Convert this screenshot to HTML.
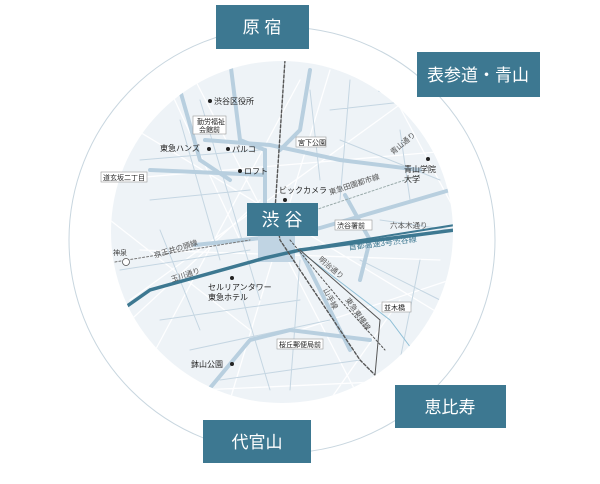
<!DOCTYPE html>
<html><head><meta charset="utf-8"><style>
html,body{margin:0;padding:0;background:#fff;}
svg{display:block;font-family:"Liberation Sans","Noto Sans CJK JP",sans-serif;}
</style></head><body>
<svg width="600" height="484" viewBox="0 0 600 484">
<defs><clipPath id="c"><circle cx="282" cy="232" r="171"/></clipPath></defs>
<circle cx="282" cy="240" r="213" fill="none" stroke="#c8d6df" stroke-width="1"/>
<circle cx="282" cy="232" r="171" fill="#eef3f7"/>
<g clip-path="url(#c)" fill="none" stroke-linecap="round">
 <g stroke="#ffffff" stroke-width="1.3" opacity=".9">
  <path d="M120 120 L450 320 M110 180 L460 150 M130 300 L420 90 M150 360 L300 80 M200 390 L420 380 M140 250 L440 260 M190 70 L360 400 M330 70 L230 400 M110 220 L250 330 M380 70 L460 220 M120 330 L260 200 M300 330 L450 280 M170 90 L240 240 M400 300 L330 400"/>
 </g>
 <g stroke="#c5d6e2" stroke-width="1">
  <path d="M140 160 L260 150 M150 200 L250 190 M200 100 L260 300 M180 120 L220 260 M120 270 L250 250 M160 320 L300 300 M190 350 L330 320 M220 380 L360 360 M330 110 L420 100 M340 140 L440 180 M360 260 L440 300 M380 220 L450 230 M310 90 L320 180 M350 80 L340 200 M400 130 L410 200 M160 230 L200 330 M240 290 L270 390 M300 260 L290 390 M420 260 L400 360"/>
 </g>
 <g stroke="#b8cfdf" stroke-width="4">
  <path d="M230 60 L240 140 L265 150 L265 205"/>
  <path d="M195 245 L290 235 L320 228 L450 190"/>
  <path d="M205 140 L270 145 L340 160 L420 170"/>
  <path d="M180 90 L200 160 L230 180"/>
  <path d="M310 70 L300 130 L280 150"/>
  <path d="M345 195 L370 240 L360 280"/>
  <path d="M150 170 L265 175"/>
  <path d="M300 250 L350 350"/>
  <path d="M200 400 L250 340 L290 330 L370 340"/>
  <path d="M380 90 L430 100 L450 130"/>
 </g>
 <path d="M258 235 L258 262 L295 262 L295 235 Z" fill="#c0d4e3" stroke="none"/>
 <path d="M110 318 L150 290 L265 258 L300 250 L455 230" stroke="#3d7891" stroke-width="3.5"/>
 <path d="M310 248 L455 225" stroke="#3d7891" stroke-width="2"/>
 <path d="M305 255 L390 320 L420 360" stroke="#8fbfd6" stroke-width="1"/>
 <path d="M285 60 L275 210 L280 240 L320 300 L360 360 L375 375" stroke="#555" stroke-width="1.4" stroke-dasharray="3 2"/>
 <path d="M290 240 L340 300 L385 350" stroke="#555" stroke-width="1" stroke-dasharray="2 2"/>
 <path d="M300 250 L380 320 L375 375" stroke="#555" stroke-width="1"/>
 <path d="M115 262 L250 240" stroke="#777" stroke-width="1" stroke-dasharray="2 2"/>
 <path d="M300 215 L420 175" stroke="#9aa" stroke-width="1" stroke-dasharray="2 2"/>
</g>
<g fill="#3d7891">
 <rect x="216" y="5" width="93" height="44"/>
 <rect x="417" y="52" width="123" height="45"/>
 <rect x="395" y="385" width="111" height="43"/>
 <rect x="203" y="420" width="108" height="43"/>
 <rect x="247" y="203" width="71" height="33"/>
</g>
<g fill="#fff" font-size="17" text-anchor="middle">
 <text x="262" y="33">原 宿</text>
 <text x="478" y="81">表参道・青山</text>
 <text x="450" y="413">恵比寿</text>
 <text x="257" y="448">代官山</text>
 <text x="282" y="226" font-size="18">渋 谷</text>
</g>
<g font-size="8" fill="#222">
 <g fill="#fff" stroke="#999" stroke-width=".6">
  <rect x="193" y="116" width="33" height="18"/><rect x="101" y="172" width="46" height="10"/>
  <rect x="296" y="137" width="30" height="10"/><rect x="335" y="220" width="37" height="10"/>
  <rect x="382" y="302" width="29" height="10"/><rect x="277" y="339" width="46" height="10"/>
 </g>
 <text x="197" y="124" font-size="7">勤労福祉</text><text x="199" y="132" font-size="7">会館前</text>
 <text x="103" y="180" font-size="7">道玄坂二丁目</text>
 <text x="298" y="145" font-size="7">宮下公園</text>
 <text x="337" y="228" font-size="7">渋谷署前</text>
 <text x="384" y="310" font-size="7">並木橋</text>
 <text x="279" y="347" font-size="7">桜丘郵便局前</text>
 <circle cx="210" cy="101" r="2"/><text x="214" y="104">渋谷区役所</text>
 <text x="160" y="151">東急ハンズ</text><circle cx="209" cy="149" r="2"/>
 <circle cx="228" cy="149" r="2"/><text x="232" y="152">パルコ</text>
 <circle cx="240" cy="171" r="2"/><text x="244" y="174">ロフト</text>
 <text x="279" y="193">ビックカメラ</text><circle cx="285" cy="200" r="2"/>
 <circle cx="428" cy="159" r="2"/><text x="404" y="172">青山学院</text><text x="404" y="182">大学</text>
 <circle cx="232" cy="278" r="2"/><text x="208" y="290">セルリアンタワー</text><text x="208" y="300">東急ホテル</text>
 <text x="191" y="367">鉢山公園</text><circle cx="232" cy="364" r="2"/>
 <text x="113" y="255" font-size="7" fill="#444">神泉</text>
 <circle cx="126" cy="262" r="3.5" fill="#fff" stroke="#555" stroke-width=".8"/>
 <g fill="#555" font-size="7.5">
  <text x="390" y="228">六本木通り</text>
  <text transform="translate(155,258) rotate(-17)">京王井の頭線</text>
  <text transform="translate(172,282) rotate(-18)">玉川通り</text>
  <text transform="translate(330,195) rotate(-18)">東急田園都市線</text>
  <text transform="translate(393,155) rotate(-40)">青山通り</text>
  <text transform="translate(318,260) rotate(40)">明治通り</text>
  <text transform="translate(323,290) rotate(62)">山手線</text>
  <text transform="translate(345,300) rotate(55)">東急東横線</text>
 </g>
 <text x="349" y="250" fill="#3d7891" font-size="8" transform="rotate(-7 349 250)">首都高速3号渋谷線</text>
</g>
</svg>
</body></html>
